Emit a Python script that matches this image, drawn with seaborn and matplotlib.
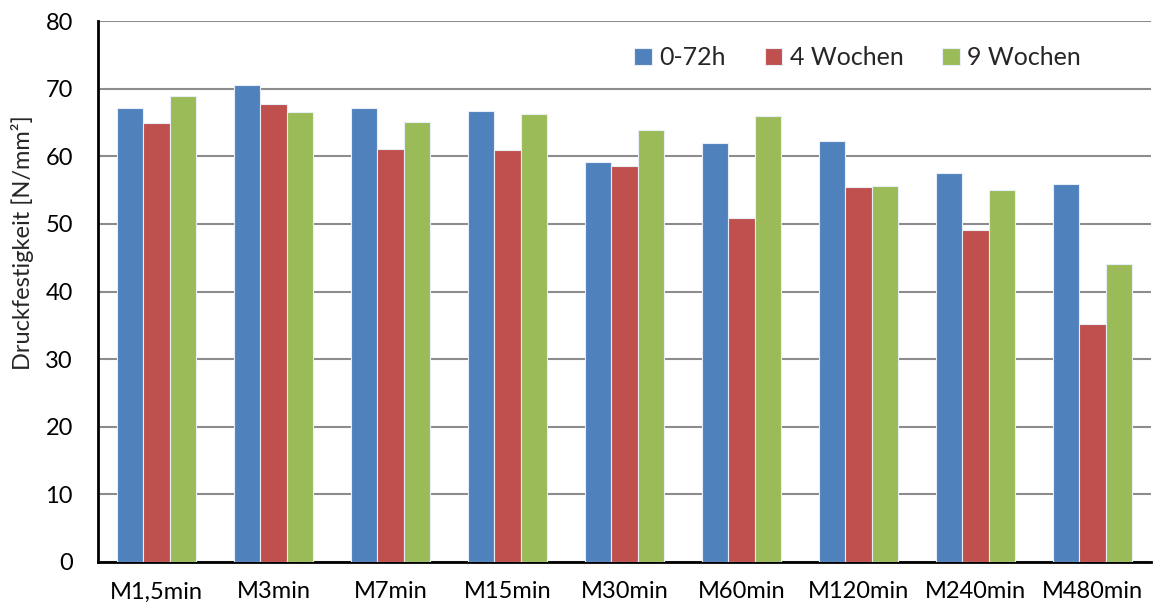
import matplotlib
matplotlib.use("Agg")
import matplotlib.pyplot as plt
import seaborn as sns
import pandas as pd

categories = ["M1,5min", "M3min", "M7min", "M15min", "M30min",
              "M60min", "M120min", "M240min", "M480min"]
series_names = ["0-72h", "4 Wochen", "9 Wochen"]
vals_72h = [67.2, 70.6, 67.1, 66.7, 59.2, 61.9, 62.2, 57.5, 55.9]
vals_4w = [64.9, 67.8, 61.0, 60.9, 58.5, 50.9, 55.4, 49.1, 35.2]
vals_9w = [68.9, 66.6, 65.1, 66.2, 63.9, 66.0, 55.6, 55.0, 44.1]
colors = ["#4F81BD", "#C0504D", "#9BBB59"]

rows = []
for name, vals in zip(series_names, [vals_72h, vals_4w, vals_9w]):
    for cat, v in zip(categories, vals):
        rows.append({"Mischung": cat, "Serie": name, "Wert": v})
df = pd.DataFrame(rows)

sns.set_style("white")
plt.rcParams["font.family"] = ["Lato", "DejaVu Sans"]

fig = plt.figure(figsize=(11.53, 6.09), dpi=100)
ax = fig.add_axes([98 / 1153, (609 - 562) / 609, (1151 - 98) / 1153, (562 - 21) / 609])

sns.barplot(data=df, x="Mischung", y="Wert", hue="Serie", order=categories,
            hue_order=series_names, palette=colors, width=0.667, gap=0,
            edgecolor="#e8eef6", linewidth=0.8, saturation=1, ax=ax, zorder=3)

ax.set_xlim(-0.5, len(categories) - 0.5)
ax.set_ylim(0, 80)
ax.set_yticks(range(0, 81, 10))
ax.yaxis.grid(True, color="#8c8c8c", linewidth=1.5, zorder=0)
ax.set_axisbelow(True)

for side in ["top", "right"]:
    ax.spines[side].set_visible(False)
for side in ["left", "bottom"]:
    ax.spines[side].set_color("black")
    ax.spines[side].set_linewidth(2)

ax.set_xticks(range(len(categories)))
ax.set_xticklabels(categories)
ax.tick_params(axis="x", length=0, pad=14, labelsize=17, colors="black")
ax.set_xticks([i + 0.5 for i in range(len(categories) - 1)], minor=True)
ax.tick_params(axis="x", which="minor", direction="in", length=7, width=1.5, color="black")
ax.tick_params(axis="y", direction="in", length=9, width=1.5, pad=18,
               labelsize=17, colors="black")

ax.set_xlabel("")
ax.set_ylabel("Druckfestigkeit [N/mm²]", fontsize=17, labelpad=6)
ax.yaxis.set_label_coords(-0.061, 0.59)

leg = ax.legend(loc="upper left", bbox_to_anchor=(0.488, 0.995), ncol=3,
                frameon=False, fontsize=18, handlelength=0.7, handleheight=0.7,
                handletextpad=0.3, columnspacing=1.55)

fig.savefig("out.png", dpi=100)
